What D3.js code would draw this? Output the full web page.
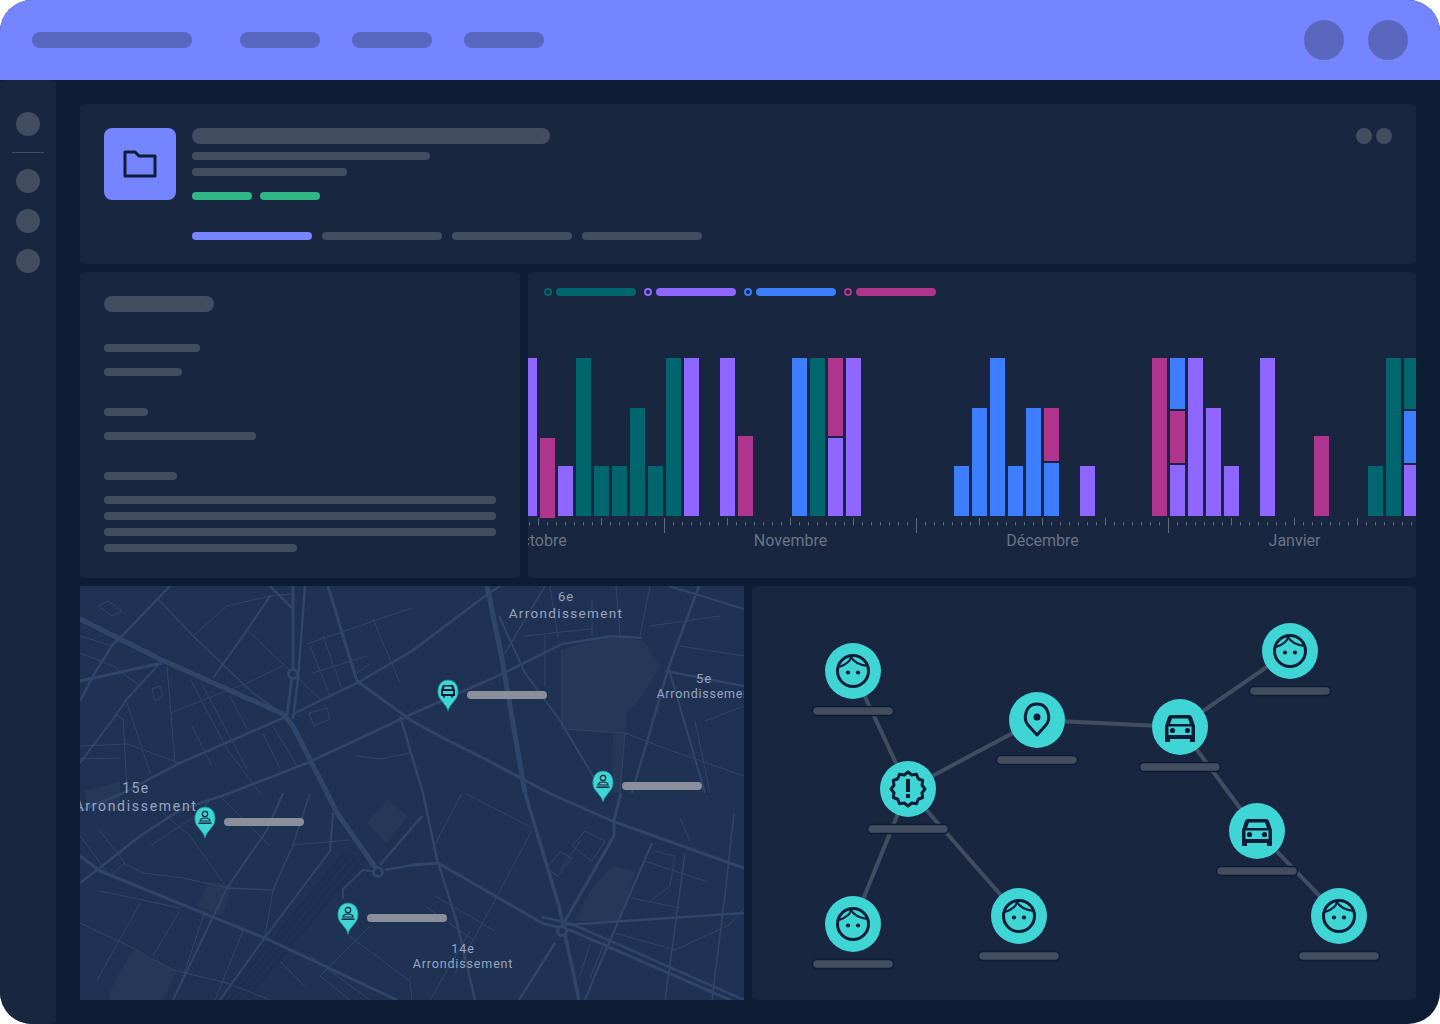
<!DOCTYPE html>
<html>
<head>
<meta charset="utf-8">
<title>Dashboard</title>
<script src="https://cdn.jsdelivr.net/npm/d3@7"></script>
<style>
  html, body { margin: 0; padding: 0; background: #fff; }
  svg { display: block; }
  .month text { font-family: Roboto, sans-serif; font-size: 16px; fill: #6a7383; }
  .map-label { font-family: Roboto, sans-serif; fill: #98a6c2; text-anchor: middle; }
</style>
</head>
<body>
<svg id="app" width="1440" height="1024"></svg>
<script>
// chart data, one value per 18px slot on the timeline
const teal = [
  0, 0, 0, 158, 50, 50, 108, 50, 158, 0,
  0, 0, 0, 0, 0, 0, 158, 0, 0, 0,
  0, 0, 0, 0, 0, 0, 0, 0, 0, 0,
  0, 0, 0, 0, 0, 0, 0, 0, 0, 0,
  0, 0, 0, 0, 0, 0, 0, 50, 158, 51];
const purple = [
  158, 0, 50, 0, 0, 0, 0, 0, 0, 158,
  0, 158, 0, 0, 0, 0, 0, 78, 158, 0,
  0, 0, 0, 0, 0, 0, 0, 0, 0, 0,
  0, 50, 0, 0, 0, 0, 51, 158, 108, 50,
  0, 158, 0, 0, 0, 0, 0, 0, 0, 51];
const blue = [
  0, 0, 0, 0, 0, 0, 0, 0, 0, 0,
  0, 0, 0, 0, 0, 158, 0, 0, 0, 0,
  0, 0, 0, 0, 50, 108, 158, 50, 108, 53,
  0, 0, 0, 0, 0, 0, 51, 0, 0, 0,
  0, 0, 0, 0, 0, 0, 0, 0, 0, 52];
const magenta = [
  0, 80, 0, 0, 0, 0, 0, 0, 0, 0,
  0, 0, 80, 0, 0, 0, 0, 78, 0, 0,
  0, 0, 0, 0, 0, 0, 0, 0, 0, 53,
  0, 0, 0, 0, 0, 158, 52, 0, 0, 0,
  0, 0, 0, 0, 80, 0, 0, 0, 0, 0];
const seriesNames = ['purple', 'blue', 'magenta', 'teal'];
const orderOverride = { 36: ['purple', 'magenta', 'blue'] };
const slotStart = { 1: -2 };
const monthLabels = ['Octobre', 'Novembre', 'Décembre', 'Janvier'];
const monthTicks = [-14, 14, 42, 70];

// network
const nodes = [
  { id: 'a', icon: 'face', x: 853, y: 671 },
  { id: 'b', icon: 'alert', x: 908, y: 789 },
  { id: 'c', icon: 'pin', x: 1037, y: 720 },
  { id: 'd', icon: 'car', x: 1180, y: 727 },
  { id: 'e', icon: 'face', x: 1290, y: 651 },
  { id: 'f', icon: 'car', x: 1257, y: 831 },
  { id: 'g', icon: 'face', x: 1339, y: 916 },
  { id: 'h', icon: 'face', x: 1019, y: 916 },
  { id: 'i', icon: 'face', x: 853, y: 924 }
];
const links = [['a', 'b'], ['b', 'c'], ['c', 'd'], ['d', 'e'], ['d', 'f'], ['f', 'g'], ['b', 'h'], ['b', 'i']];

// map
const mapPins = [
  { icon: 'car', x: 368, y: 125 },
  { icon: 'person', x: 523, y: 216 },
  { icon: 'person', x: 125, y: 252 },
  { icon: 'person', x: 268, y: 348 }
];
const mapLabels = [
  { text: '6e', x: 486, y: 15, size: 13, ls: 1 },
  { text: 'Arrondissement', x: 486, y: 32, size: 13.5, ls: 1.35 },
  { text: '5e', x: 624, y: 97, size: 13, ls: 1 },
  { text: 'Arrondissement', x: 626, y: 112, size: 12.5, ls: 0.75 },
  { text: '15e', x: 56, y: 207, size: 14, ls: 1.4 },
  { text: 'Arrondissement', x: 56, y: 225, size: 14, ls: 1.7 },
  { text: '14e', x: 383, y: 367, size: 12.5, ls: 1 },
  { text: 'Arrondissement', x: 383, y: 382, size: 12.5, ls: 0.85 }
];
const mapAreas = [
  [[482, 63], [532, 50], [564, 55], [580, 80], [562, 110], [547, 127], [545, 147], [540, 207], [532, 207], [533, 147], [482, 143]],
  [[287, 237], [307, 214], [328, 230], [307, 257]],
  [[30, 404], [53, 364], [97, 384], [83, 414], [30, 414]],
  [[494, 335], [510, 305], [532, 280], [556, 285], [540, 335]],
  [[116, 320], [130, 295], [152, 300], [142, 330]],
  [[5, 205], [40, 195], [40, 225], [8, 222]]
];
const railLines = [
  [[277, 270], [157, 414]], [[270, 268], [150, 414]], [[283, 273], [165, 414]], [[264, 268], [143, 414]]
];
const roads = [
  [5, [[0, 33], [82, 74], [203, 128], [213, 140], [247, 207], [257, 227], [298, 285]]],
  [3, [[0, 95], [82, 77]]],
  [3, [[213, 0], [213, 83], [207, 130]]],
  [2.5, [[225, 0], [218, 93], [213, 133]]],
  [2.5, [[0, 225], [43, 207], [100, 177], [203, 132]]],
  [2.5, [[0, 297], [17, 284], [60, 250], [100, 224], [150, 207], [227, 177], [332, 128], [422, 88], [482, 58], [532, 50], [562, 52]]],
  [2.5, [[213, 128], [277, 97], [332, 65], [409, 7], [420, 0]]],
  [3, [[248, 0], [263, 50], [277, 95], [332, 135], [365, 153], [405, 173], [469, 207], [532, 235], [664, 282]]],
  [2.5, [[90, 0], [42, 50], [33, 58], [13, 90], [0, 115]]],
  [1.5, [[78, 13], [113, 50], [173, 107], [203, 128]]],
  [1, [[113, 50], [147, 20], [190, 10], [213, 8]]],
  [2, [[133, 92], [165, 47], [190, 10]]],
  [2.5, [[190, 0], [213, 23]]],
  [1, [[165, 42], [240, 113]]],
  [2, [[80, 77], [47, 113], [33, 133], [0, 177]]],
  [1, [[87, 80], [95, 177]]],
  [1, [[90, 127], [167, 97], [203, 80]]],
  [1, [[110, 93], [147, 163], [180, 207]]],
  [1, [[122, 98], [167, 183]]],
  [1, [[150, 110], [167, 143]]],
  [1, [[112, 140], [132, 180]]],
  [1, [[183, 147], [200, 183]]],
  [1, [[193, 140], [217, 180]]],
  [1, [[230, 60], [250, 110]]],
  [1, [[243, 50], [262, 103]]],
  [1, [[293, 33], [320, 97]]],
  [1, [[227, 58], [317, 27], [332, 22]]],
  [1, [[233, 87], [287, 70]]],
  [1, [[277, 87], [290, 78]]],
  [1, [[0, 67], [33, 80], [60, 100]]],
  [1, [[0, 50], [33, 60]]],
  [1, [[0, 160], [47, 158], [100, 177]]],
  [1, [[0, 173], [40, 172]]],
  [1, [[35, 128], [43, 133], [45, 167], [47, 207]]],
  [1, [[47, 117], [70, 187]]],
  [1, [[277, 170], [300, 173], [330, 167]]],
  [2.5, [[320, 130], [343, 207], [357, 273], [377, 337], [395, 414]]],
  [5, [[407, 0], [422, 73], [445, 207]]],
  [3.5, [[445, 207], [479, 320], [499, 414]]],
  [2.5, [[552, 207], [589, 80], [619, 0]]],
  [2.5, [[585, 85], [664, 100]]],
  [2, [[589, 0], [664, 23]]],
  [1.5, [[712, 57], [737, 0]]],
  [2, [[589, 83], [625, 207]]],
  [1.5, [[425, 67], [465, 0]]],
  [2, [[419, 30], [445, 87], [479, 133], [519, 200]]],
  [1, [[482, 63], [482, 143], [545, 147]]],
  [1, [[545, 147], [540, 207]]],
  [1, [[545, 147], [592, 165], [664, 190]]],
  [1, [[465, 50], [465, 100]]],
  [1, [[445, 50], [510, 43]]],
  [1, [[512, 50], [512, 14]]],
  [1, [[478, 53], [470, 0]]],
  [1, [[540, 50], [536, 0]]],
  [1, [[560, 50], [570, 0]]],
  [1, [[570, 40], [640, 30]]],
  [1, [[600, 60], [664, 70]]],
  [1, [[625, 135], [664, 120]]],
  [1, [[615, 135], [630, 207]]],
  [3, [[541, 207], [534, 234], [534, 250], [482, 340]]],
  [3, [[332, 279], [358, 277], [462, 337], [492, 345], [664, 420]]],
  [2.5, [[462, 331], [492, 338], [664, 414]]],
  [2.5, [[485, 339], [664, 327]]],
  [2.5, [[475, 357], [439, 414]]],
  [2, [[572, 257], [519, 380], [505, 414]]],
  [1.5, [[605, 267], [592, 364], [585, 414]]],
  [1.5, [[654, 227], [644, 317], [632, 414]]],
  [1, [[452, 244], [415, 314], [375, 387]]],
  [1, [[382, 207], [352, 264]]],
  [1, [[385, 207], [452, 242]]],
  [1, [[535, 347], [595, 364], [649, 339], [664, 322]]],
  [1, [[552, 312], [600, 322]]],
  [1, [[565, 275], [625, 295]]],
  [1, [[575, 265], [595, 270], [590, 300], [570, 315]]],
  [1, [[500, 255], [480, 285]]],
  [1, [[492, 260], [512, 275], [525, 255], [505, 245], [492, 260]]],
  [1, [[600, 232], [610, 255]]],
  [1, [[510, 358], [500, 390]]],
  [1, [[525, 355], [510, 392]]],
  [3, [[0, 270], [20, 285], [187, 353], [317, 414]]],
  [2, [[263, 313], [263, 303], [283, 284], [298, 286]]],
  [2.5, [[305, 284], [332, 279]]],
  [2.5, [[300, 279], [342, 230]]],
  [2, [[253, 227], [250, 265], [183, 354], [140, 414]]],
  [2, [[93, 414], [147, 302], [187, 244], [203, 207]]],
  [1, [[147, 302], [103, 292], [63, 287], [43, 277]]],
  [1.5, [[147, 302], [193, 304], [213, 259], [230, 207]]],
  [1, [[212, 259], [270, 254]]],
  [1, [[147, 302], [110, 250], [83, 227]]],
  [1, [[193, 304], [185, 350]]],
  [1, [[0, 337], [47, 359], [93, 384], [147, 397], [190, 414]]],
  [1, [[100, 324], [73, 370]]],
  [1, [[60, 317], [17, 394]]],
  [1, [[20, 305], [100, 322]]],
  [1, [[125, 325], [100, 400]]],
  [1, [[165, 340], [135, 414]]],
  [1, [[0, 250], [30, 290], [45, 277], [20, 245]]],
  [1, [[70, 260], [115, 230], [130, 215]]],
  [1, [[140, 210], [190, 260]]],
  [1, [[290, 340], [240, 390], [270, 414]]],
  [1, [[265, 347], [330, 395], [332, 414]]],
  [1, [[230, 370], [290, 414]]],
  [1, [[200, 375], [225, 400]]],
  [1, [[390, 345], [350, 414]]],
  [1, [[345, 320], [395, 355]]],
  [1, [[355, 310], [415, 345]]]
];
const mapBlocks = [
  [[72, 103], [80, 100], [83, 110], [75, 115]],
  [[229, 127], [247, 122], [250, 133], [234, 140]],
  [[480, 266], [492, 272], [478, 290], [466, 282]],
  [[28, 15], [42, 25], [32, 30], [18, 20]]
];
const mapRoundabouts = [[213, 88], [298, 286], [482, 345]];

// page skeleton: [x, y, w, h, radius]
const panels = [
  [80, 104, 1336, 160, 4], [80, 272, 440, 306, 4], [528, 272, 888, 306, 4], [752, 586, 664, 414, 4]
];
const headerPills = [[32, 32, 160, 16], [240, 32, 80, 16], [352, 32, 80, 16], [464, 32, 80, 16]];
const headerDots = [1324, 1388];
const sideDots = [124, 181, 221, 261];
const greyPills = [
  [192, 128, 358, 16], [192, 152, 238, 8], [192, 168, 155, 8],
  [322, 232, 120, 8], [452, 232, 120, 8], [582, 232, 120, 8],
  [104, 296, 110, 16], [104, 344, 96, 8], [104, 368, 78, 8], [104, 408, 44, 8], [104, 432, 152, 8],
  [104, 472, 73, 8], [104, 496, 392, 8], [104, 512, 392, 8], [104, 528, 392, 8], [104, 544, 193, 8]
];
const greenPills = [[192, 192, 60, 8], [260, 192, 60, 8]];

const colors = { teal: '#00666e', purple: '#8f66ff', blue: '#3d7eff', magenta: '#b0358e' };
const series = { teal, purple, blue, magenta };
const DARK = '#0e1c36', PANEL = '#182640', GREY = '#424e60', ACCENT = '#7584ff', AQUA = '#40d5d5';

const svg = d3.select('#app');
const defs = svg.append('defs');
defs.append('clipPath').attr('id', 'page').append('rect')
  .attr('width', 1440).attr('height', 1024).attr('rx', 32);
defs.append('clipPath').attr('id', 'chart-clip').append('rect')
  .attr('x', 528).attr('y', 272).attr('width', 888).attr('height', 306);
defs.append('clipPath').attr('id', 'map-clip').append('rect')
  .attr('width', 664).attr('height', 414);

const root = svg.append('g').attr('clip-path', 'url(#page)');

function pill(parent, d, fill) {
  return parent.append('rect')
    .attr('x', d[0]).attr('y', d[1]).attr('width', d[2]).attr('height', d[3])
    .attr('rx', d[4] === undefined ? d[3] / 2 : d[4])
    .attr('fill', fill);
}

// shell
root.append('rect').attr('width', 1440).attr('height', 1024).attr('fill', DARK);
pill(root, [0, 80, 56, 944, 4], PANEL);
pill(root, [0, 0, 1440, 80, 0], ACCENT);
headerPills.forEach(d => pill(root, d, '#5a67bf'));
headerDots.forEach(x => root.append('circle').attr('cx', x).attr('cy', 40).attr('r', 20).attr('fill', '#5a67bf'));
sideDots.forEach(y => root.append('circle').attr('cx', 28).attr('cy', y).attr('r', 12).attr('fill', GREY));
root.append('rect').attr('x', 12).attr('y', 152).attr('width', 32).attr('height', 1).attr('fill', GREY);

panels.forEach(d => pill(root, d, PANEL));
greyPills.forEach(d => pill(root, d, GREY));
greenPills.forEach(d => pill(root, d, '#2eb886'));
pill(root, [192, 232, 120, 8], ACCENT);
[1364, 1384].forEach(x => root.append('circle').attr('cx', x).attr('cy', 136).attr('r', 8).attr('fill', GREY));

// folder tile
pill(root, [104, 128, 72, 72, 8], ACCENT);
root.append('path')
  .attr('transform', 'translate(140,164)')
  .attr('d', 'M-15,-12 H-5 L-1,-8 H15 V12 H-15 Z')
  .attr('fill', 'none').attr('stroke', DARK).attr('stroke-width', 3).attr('stroke-linejoin', 'round');

// legend
const legendOrder = ['teal', 'purple', 'blue', 'magenta'];
legendOrder.forEach((name, i) => {
  const x0 = 544 + i * 100;
  root.append('circle').attr('cx', x0 + 4).attr('cy', 292).attr('r', 3)
    .attr('fill', 'none').attr('stroke', colors[name]).attr('stroke-width', 2);
  pill(root, [x0 + 12, 288, 80, 8], colors[name]);
});

// bars
const chart = root.append('g').attr('clip-path', 'url(#chart-clip)');
const slots = d3.range(teal.length);
const x = d3.scaleBand().domain(slots).range([520.5, 1420.5]).paddingInner(1 / 6).paddingOuter(1 / 12);
const y = d3.scaleLinear().domain([0, 158]).range([516, 358]);
const STACK_GAP = 2;

const segments = [];
slots.forEach(slot => {
  let start = slotStart[slot] || 0;
  (orderOverride[slot] || seriesNames).forEach(name => {
    const v = series[name][slot];
    if (!v) return;
    segments.push({ slot, name, y0: start, y1: start + v });
    start += v + STACK_GAP;
  });
});

chart.selectAll('rect.bar').data(segments).join('rect')
  .attr('class', 'bar')
  .attr('x', d => x(d.slot))
  .attr('width', x.bandwidth())
  .attr('y', d => y(d.y1))
  .attr('height', d => y(d.y0) - y(d.y1))
  .attr('fill', d => colors[d.name]);

// time axis, 9px per tick, weeks every 7, months every 28
const t = d3.scaleLinear().domain([-15, 83]).range([529, 1411]);
const allTicks = d3.range(-15, 84);
function tickAxis(values, size, top) {
  const g = chart.append('g')
    .attr('transform', `translate(0,${top})`)
    .call(d3.axisBottom(t).tickValues(values).tickSize(size).tickFormat(''));
  g.select('.domain').remove();
  g.selectAll('line').attr('stroke', '#5f6979');
  g.selectAll('text').remove();
}
const isMonth = i => i % 28 === 0;
const isWeek = i => i % 7 === 0;
tickAxis(allTicks.filter(i => !isWeek(i)), 3.5, 522);
tickAxis(allTicks.filter(i => isWeek(i) && !isMonth(i)), 7.5, 518);
tickAxis(allTicks.filter(isMonth), 15, 518);

const monthAxis = chart.append('g')
  .attr('class', 'month')
  .attr('transform', 'translate(0,535)')
  .call(d3.axisBottom(t).tickValues(monthTicks).tickSize(0).tickPadding(0)
    .tickFormat((d, i) => monthLabels[i]));
monthAxis.select('.domain').remove();
monthAxis.selectAll('text').attr('dy', '0.71em');

// map
const map = root.append('g').attr('transform', 'translate(80,586)').attr('clip-path', 'url(#map-clip)');
map.append('rect').attr('width', 664).attr('height', 414).attr('fill', '#1f3254');
const roadLine = d3.line();
map.selectAll('path.area').data(mapAreas).join('path')
  .attr('class', 'area').attr('d', d => roadLine(d) + 'Z').attr('fill', '#253857');
map.selectAll('path.rail').data(railLines).join('path')
  .attr('class', 'rail').attr('d', roadLine).attr('fill', 'none')
  .attr('stroke', '#1b2d4e').attr('stroke-width', 3).attr('opacity', 0.7);
map.selectAll('path.road').data(roads).join('path')
  .attr('class', 'road').attr('d', d => roadLine(d[1])).attr('fill', 'none')
  .attr('stroke', '#2f4569').attr('stroke-width', d => d[0]).attr('stroke-linejoin', 'round');
map.selectAll('path.block').data(mapBlocks).join('path')
  .attr('class', 'block').attr('d', d => roadLine(d) + 'Z').attr('fill', 'none')
  .attr('stroke', '#2f4569').attr('stroke-width', 1);
map.selectAll('circle.round').data(mapRoundabouts).join('circle')
  .attr('class', 'round').attr('cx', d => d[0]).attr('cy', d => d[1]).attr('r', 4.5)
  .attr('fill', '#1f3254').attr('stroke', '#2f4569').attr('stroke-width', 3);
map.selectAll('text').data(mapLabels).join('text')
  .attr('class', 'map-label')
  .attr('x', d => d.x).attr('y', d => d.y)
  .style('font-size', d => d.size + 'px')
  .style('letter-spacing', d => d.ls + 'px')
  .text(d => d.text);

function smallCar(g) {
  g.append('path').attr('d', 'M-7,-1 L-5,-6 H5 L7,-1 V5 H5 V6.5 H3 V5 H-3 V6.5 H-5 V5 H-7 Z').attr('fill', DARK);
  g.append('rect').attr('x', -5).attr('y', 0).attr('width', 10).attr('height', 3).attr('fill', AQUA);
  g.append('path').attr('d', 'M-4,-2 L-3.5,-4.5 H3.5 L4,-2 Z').attr('fill', AQUA);
}
function smallPerson(g) {
  g.append('circle').attr('cy', -4).attr('r', 2.7).attr('fill', 'none').attr('stroke', DARK).attr('stroke-width', 1.2);
  g.append('path').attr('d', 'M-5,3 C-5,-1 5,-1 5,3 Z').attr('fill', 'none').attr('stroke', DARK).attr('stroke-width', 1.2);
  g.append('rect').attr('x', -6.5).attr('y', 4.5).attr('width', 13).attr('height', 1.4).attr('fill', DARK);
}
const pinG = map.selectAll('g.map-pin').data(mapPins).join('g')
  .attr('class', 'map-pin')
  .attr('transform', d => `translate(${d.x},${d.y})`);
pinG.append('path')
  .attr('d', 'M0,0 L-1.5,-4 L-8.5,-13 C-12,-19 -10,-31 0,-31 C10,-31 12,-19 8.5,-13 L1.5,-4 Z')
  .attr('fill', AQUA).attr('stroke', '#1c8f97').attr('stroke-width', 0.8);
pinG.each(function (d) {
  const g = d3.select(this).append('g').attr('transform', 'translate(0,-20)');
  (d.icon === 'car' ? smallCar : smallPerson)(g);
});
pinG.append('rect')
  .attr('x', 19).attr('y', -20).attr('width', 80).attr('height', 8).attr('rx', 4).attr('fill', '#8b8f9b');

// network
const byId = new Map(nodes.map(d => [d.id, d]));
root.append('g').selectAll('line').data(links).join('line')
  .attr('x1', d => byId.get(d[0]).x).attr('y1', d => byId.get(d[0]).y)
  .attr('x2', d => byId.get(d[1]).x).attr('y2', d => byId.get(d[1]).y)
  .attr('stroke', GREY).attr('stroke-width', 4);

const nodeG = root.append('g').selectAll('g').data(nodes).join('g')
  .attr('transform', d => `translate(${d.x},${d.y})`);
nodeG.append('rect')
  .attr('x', -40.5).attr('y', 35.5).attr('width', 81).attr('height', 9).attr('rx', 4.5)
  .attr('fill', GREY).attr('stroke', DARK).attr('stroke-width', 1.5);
nodeG.append('circle').attr('r', 28).attr('fill', AQUA);

const outline = g => g.attr('fill', 'none').attr('stroke', DARK).attr('stroke-width', 3).attr('stroke-linejoin', 'round');
const icons = {
  face(g) {
    g.append('circle').attr('r', 15.5).call(outline);
    g.append('path').attr('d', 'M-14,-4 C-8,-6 -3,-9 -2,-14 C1,-8 8,-6 14.5,-5').call(outline).attr('stroke-width', 2);
    [-5, 5].forEach(cx => g.append('circle').attr('cx', cx).attr('cy', 1.5).attr('r', 2.1).attr('fill', DARK));
  },
  pin(g) {
    g.append('path').attr('d', 'M0,15 L-9,5 C-14,-1 -12,-16 0,-16 C12,-16 14,-1 9,5 Z').call(outline);
    g.append('circle').attr('cy', -3).attr('r', 3.5).attr('fill', DARK);
  },
  alert(g) {
    const pts = d3.range(24).map(i => [i * Math.PI / 12, i % 2 ? 14.5 : 17]);
    g.append('path').attr('d', d3.lineRadial().curve(d3.curveLinearClosed)(pts)).call(outline);
    g.append('rect').attr('x', -2).attr('y', -10).attr('width', 4).attr('height', 13).attr('fill', DARK);
    g.append('rect').attr('x', -2).attr('y', 5).attr('width', 4).attr('height', 4).attr('fill', DARK);
  },
  car(g) {
    g.append('path')
      .attr('d', 'M-15,-1 L-12,-10 Q-11,-12 -9,-12 H9 Q11,-12 12,-10 L15,-1 V15 H10 V12 H-10 V15 H-15 Z')
      .attr('fill', DARK);
    g.append('path').attr('d', 'M-10,-3 L-8,-8.5 H8 L10,-3 Z').attr('fill', AQUA);
    g.append('rect').attr('x', -11.5).attr('y', -0.5).attr('width', 23).attr('height', 8.5).attr('fill', AQUA);
    [-7.5, 7.5].forEach(cx => g.append('circle').attr('cx', cx).attr('cy', 3.5).attr('r', 2.6).attr('fill', DARK));
  }
};
nodeG.each(function (d) { icons[d.icon](d3.select(this)); });
</script>
</body>
</html>
